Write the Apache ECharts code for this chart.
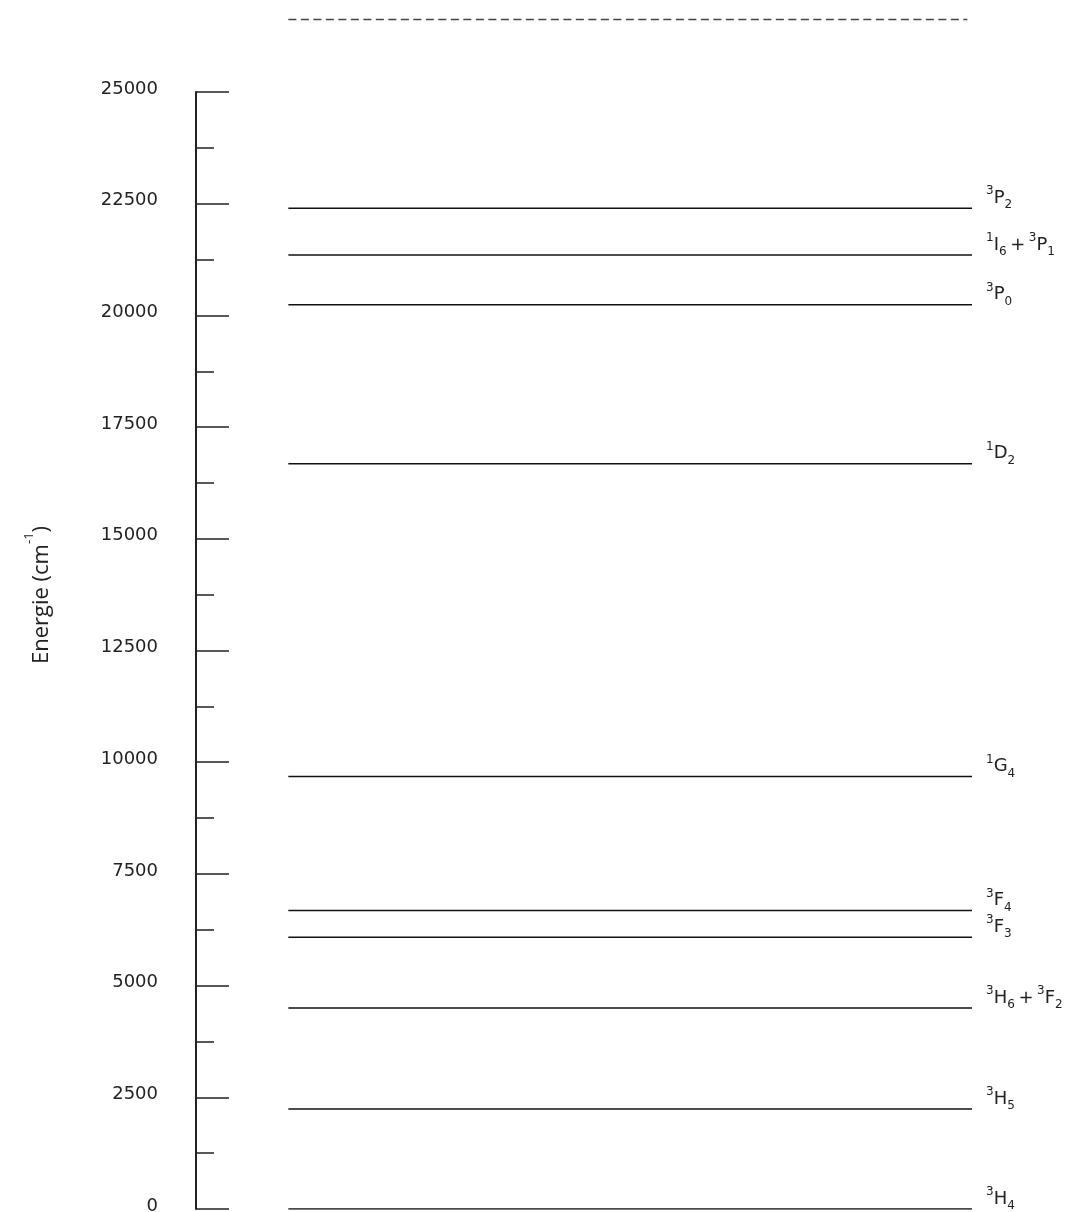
<!DOCTYPE html>
<html>
<head>
<meta charset="utf-8">
<script src="https://cdn.jsdelivr.net/npm/echarts@6/dist/echarts.min.js"></script>
<style>html,body{margin:0;padding:0;background:#fff}#c{width:1080px;height:1212px}</style>
</head>
<body>
<div id="c"></div>
<script>
// Energy levels (cm^-1)
const levelNames = ['3H4', '3H5', '3H6+3F2', '3F3', '3F4', '1G4', '1D2', '3P0', '1I6+3P1', '3P2'];
const levelEnergies = [0, 2240, 4500, 6080, 6680, 9680, 16680, 20240, 21350, 22400];
// Label tokens: [sup, letter, sub] pairs
const levelLabels = [
  [['3','H','4']],
  [['3','H','5']],
  [['3','H','6'], ['3','F','2']],
  [['3','F','3']],
  [['3','F','4']],
  [['1','G','4']],
  [['1','D','2']],
  [['3','P','0']],
  [['1','I','6'], ['3','P','1']],
  [['3','P','2']]
];
const dashedLevel = 26620;
const yTicks = [0, 2500, 5000, 7500, 10000, 12500, 15000, 17500, 20000, 22500, 25000];

// horizontal extent on a hidden x axis (0..100)
const xStart = 11.9, xEnd = 100, xDashEnd = 99.4;

function richLabel(parts) {
  return parts.map(p => '{sup|' + p[0] + '}{main|' + p[1] + '}{sub|' + p[2] + '}').join('{main|\u2009+\u2009}');
}

const rich = {
  sup: {fontSize: 12, fontFamily: 'DejaVu Sans', color: '#222', verticalAlign: 'top', lineHeight: 26},
  main: {fontSize: 18, fontFamily: 'DejaVu Sans', color: '#222', verticalAlign: 'middle', lineHeight: 26},
  sub: {fontSize: 12, fontFamily: 'DejaVu Sans', color: '#222', verticalAlign: 'bottom', lineHeight: 26}
};

const series = levelEnergies.map((e, i) => ({
  type: 'line',
  name: levelNames[i],
  data: [[xStart, e], [xEnd, e]],
  symbol: 'none',
  silent: true,
  lineStyle: {color: '#111', width: 1.5},
  endLabel: {
    show: true,
    formatter: () => richLabel(levelLabels[i]),
    rich: rich,
    offset: [6, -10]
  }
}));
series.push({
  type: 'line',
  name: 'dashed',
  data: [[xStart, dashedLevel], [xDashEnd, dashedLevel]],
  symbol: 'none',
  silent: true,
  clip: false,
  lineStyle: {color: '#444', width: 1.5, type: [8, 4.5]}
});

const chart = echarts.init(document.getElementById('c'), null, {renderer: 'canvas'});
chart.setOption({
  animation: false,
  backgroundColor: '#fff',
  grid: {left: 196, right: 108, top: 92, bottom: 3, containLabel: false, outerBoundsMode: 'none'},
  xAxis: {type: 'value', min: 0, max: 100, show: false},
  yAxis: {
    type: 'value', min: 0, max: 25000, interval: 2500,
    axisLine: {show: true, lineStyle: {color: '#222', width: 2}},
    axisTick: {show: true, inside: true, length: 33, lineStyle: {color: '#222', width: 1.5}},
    minorTick: {show: true, splitNumber: 2, length: 18, lineStyle: {color: '#222', width: 1.5}},
    splitLine: {show: false},
    axisLabel: {
      margin: 38,
      formatter: v => yTicks.includes(v) ? '{t|' + v + '}' : '',
      rich: {
        t: {fontSize: 18, fontFamily: 'DejaVu Sans', color: '#222', lineHeight: 22, padding: [0, 0, 6, 0]}
      }
    }
  },
  graphic: [{
    type: 'text',
    x: 38, y: 595,
    rotation: Math.PI / 2,
    style: {
      text: '{n|Energie (cm}{s|-1}{n|)}',
      align: 'center', verticalAlign: 'middle',
      rich: {
        n: {fontSize: 22, fontFamily: 'Open Sans', fill: '#222', color: '#222', verticalAlign: 'bottom', lineHeight: 30},
        s: {fontSize: 13, fontFamily: 'Open Sans', fill: '#222', color: '#222', verticalAlign: 'top', lineHeight: 30}
      }
    }
  }],
  series: series
});
</script>
</body>
</html>
